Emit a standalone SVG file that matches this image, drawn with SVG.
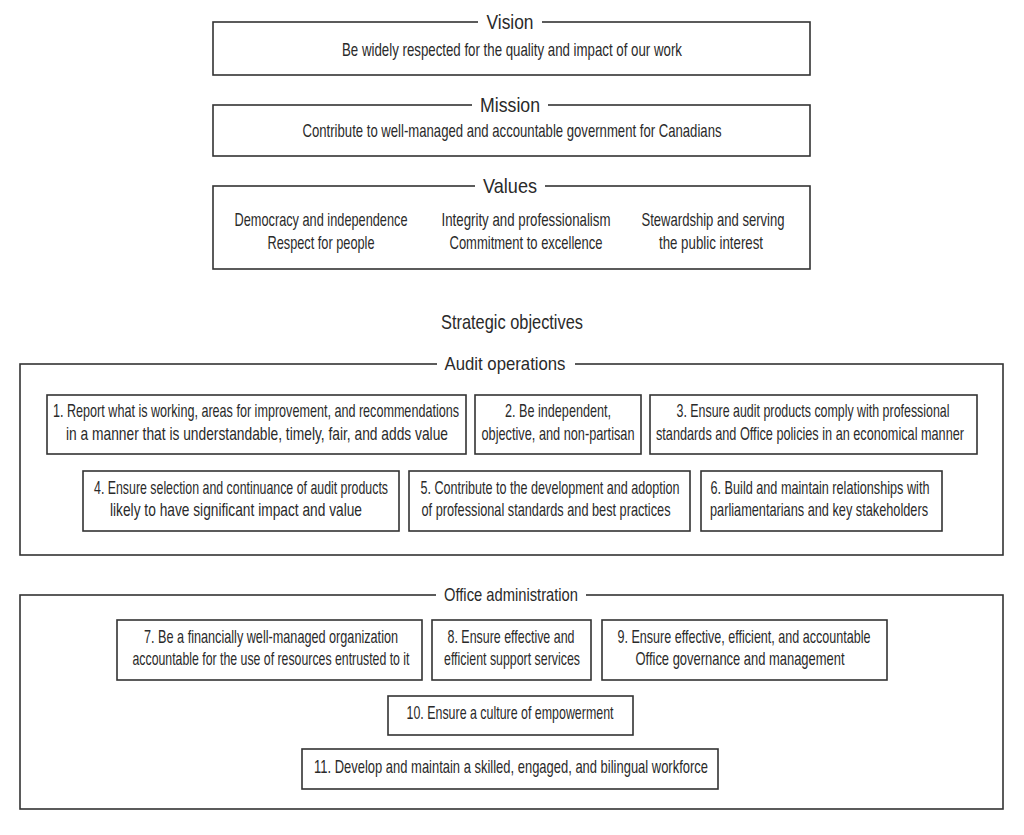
<svg xmlns="http://www.w3.org/2000/svg" width="1024" height="835" viewBox="0 0 1024 835">
<style>
text{font-family:"Liberation Sans",Arial,sans-serif;fill:#2a2a2a;text-anchor:middle}
.t{font-size:18px}
.h{font-size:21px}
.b{fill:none;stroke:#333;stroke-width:1.6}
.bg{fill:#fff}
</style>
<rect width="1024" height="835" fill="#fff"/>
<g id="vision">
<rect class="b" x="213" y="22" width="597" height="53"/>
<rect class="bg" x="478" y="10" width="64" height="24"/>
<text class="h" transform="matrix(0.75 0 0 1 510 0)" x="0" y="29" textLength="62.7" lengthAdjust="spacingAndGlyphs">Vision</text>
<text class="t" transform="matrix(0.75 0 0 1 512 0)" x="0" y="56" textLength="453.3" lengthAdjust="spacingAndGlyphs">Be widely respected for the quality and impact of our work</text>
</g>
<g id="mission">
<rect class="b" x="213" y="105" width="597" height="51"/>
<rect class="bg" x="472" y="93" width="76" height="24"/>
<text class="h" transform="matrix(0.75 0 0 1 510 0)" x="0" y="112" textLength="80" lengthAdjust="spacingAndGlyphs">Mission</text>
<text class="t" transform="matrix(0.75 0 0 1 512 0)" x="0" y="137" textLength="558.7" lengthAdjust="spacingAndGlyphs">Contribute to well-managed and accountable government for Canadians</text>
</g>
<g id="values">
<rect class="b" x="213" y="186" width="597" height="83"/>
<rect class="bg" x="475" y="174" width="70" height="24"/>
<text class="h" transform="matrix(0.75 0 0 1 510 0)" x="0" y="193" textLength="72" lengthAdjust="spacingAndGlyphs">Values</text>
<text class="t" transform="matrix(0.75 0 0 1 321 0)" x="0" y="226" textLength="230.7" lengthAdjust="spacingAndGlyphs">Democracy and independence</text>
<text class="t" transform="matrix(0.75 0 0 1 321 0)" x="0" y="249" textLength="142.7" lengthAdjust="spacingAndGlyphs">Respect for people</text>
<text class="t" transform="matrix(0.75 0 0 1 526 0)" x="0" y="226" textLength="225.3" lengthAdjust="spacingAndGlyphs">Integrity and professionalism</text>
<text class="t" transform="matrix(0.75 0 0 1 526 0)" x="0" y="249" textLength="204" lengthAdjust="spacingAndGlyphs">Commitment to excellence</text>
<text class="t" transform="matrix(0.75 0 0 1 713 0)" x="0" y="226" textLength="190.7" lengthAdjust="spacingAndGlyphs">Stewardship and serving</text>
<text class="t" transform="matrix(0.75 0 0 1 711 0)" x="0" y="249" textLength="138.7" lengthAdjust="spacingAndGlyphs">the public interest</text>
</g>
<g id="strategic-title">
<text class="h" transform="matrix(0.75 0 0 1 512 0)" x="0" y="329" textLength="189.3" lengthAdjust="spacingAndGlyphs">Strategic objectives</text>
</g>
<g id="audit-operations">
<rect class="b" x="20" y="364" width="983" height="191"/>
<rect class="bg" x="437" y="352" width="138" height="24"/>
<text class="t" transform="matrix(0.75 0 0 1 505 0)" x="0" y="370" textLength="161.3" lengthAdjust="spacingAndGlyphs">Audit operations</text>
</g>
<g id="obj1">
<rect class="b" x="47" y="395" width="419" height="59"/>
<text class="t" transform="matrix(0.75 0 0 1 256 0)" x="0" y="417" textLength="541.3" lengthAdjust="spacingAndGlyphs">1. Report what is working, areas for improvement, and recommendations</text>
<text class="t" transform="matrix(0.75 0 0 1 257 0)" x="0" y="440" textLength="509.3" lengthAdjust="spacingAndGlyphs">in a manner that is understandable, timely, fair, and adds value</text>
</g>
<g id="obj2">
<rect class="b" x="475" y="395" width="166" height="59"/>
<text class="t" transform="matrix(0.75 0 0 1 558 0)" x="0" y="417" textLength="141.3" lengthAdjust="spacingAndGlyphs">2. Be independent,</text>
<text class="t" transform="matrix(0.75 0 0 1 558 0)" x="0" y="440" textLength="204" lengthAdjust="spacingAndGlyphs">objective, and non-partisan</text>
</g>
<g id="obj3">
<rect class="b" x="650" y="395" width="327" height="59"/>
<text class="t" transform="matrix(0.75 0 0 1 813 0)" x="0" y="417" textLength="364" lengthAdjust="spacingAndGlyphs">3. Ensure audit products comply with professional</text>
<text class="t" transform="matrix(0.75 0 0 1 810 0)" x="0" y="440" textLength="410.7" lengthAdjust="spacingAndGlyphs">standards and Office policies in an economical manner</text>
</g>
<g id="obj4">
<rect class="b" x="83" y="471" width="316" height="60"/>
<text class="t" transform="matrix(0.75 0 0 1 241 0)" x="0" y="494" textLength="392" lengthAdjust="spacingAndGlyphs">4. Ensure selection and continuance of audit products</text>
<text class="t" transform="matrix(0.75 0 0 1 236 0)" x="0" y="516" textLength="336" lengthAdjust="spacingAndGlyphs">likely to have significant impact and value</text>
</g>
<g id="obj5">
<rect class="b" x="409" y="471" width="281" height="60"/>
<text class="t" transform="matrix(0.75 0 0 1 550 0)" x="0" y="494" textLength="345.3" lengthAdjust="spacingAndGlyphs">5. Contribute to the development and adoption</text>
<text class="t" transform="matrix(0.75 0 0 1 546 0)" x="0" y="516" textLength="332" lengthAdjust="spacingAndGlyphs">of professional standards and best practices</text>
</g>
<g id="obj6">
<rect class="b" x="701" y="471" width="241" height="60"/>
<text class="t" transform="matrix(0.75 0 0 1 820 0)" x="0" y="494" textLength="292" lengthAdjust="spacingAndGlyphs">6. Build and maintain relationships with</text>
<text class="t" transform="matrix(0.75 0 0 1 819 0)" x="0" y="516" textLength="290.7" lengthAdjust="spacingAndGlyphs">parliamentarians and key stakeholders</text>
</g>
<g id="office-administration">
<rect class="b" x="20" y="595" width="983" height="214"/>
<rect class="bg" x="436" y="583" width="150" height="24"/>
<text class="t" transform="matrix(0.75 0 0 1 511 0)" x="0" y="601" textLength="178.7" lengthAdjust="spacingAndGlyphs">Office administration</text>
</g>
<g id="obj7">
<rect class="b" x="117" y="620" width="305" height="60"/>
<text class="t" transform="matrix(0.75 0 0 1 271 0)" x="0" y="643" textLength="338.7" lengthAdjust="spacingAndGlyphs">7. Be a financially well-managed organization</text>
<text class="t" transform="matrix(0.75 0 0 1 271 0)" x="0" y="665" textLength="369.3" lengthAdjust="spacingAndGlyphs">accountable for the use of resources entrusted to it</text>
</g>
<g id="obj8">
<rect class="b" x="432" y="620" width="159" height="60"/>
<text class="t" transform="matrix(0.75 0 0 1 511 0)" x="0" y="643" textLength="169.3" lengthAdjust="spacingAndGlyphs">8. Ensure effective and</text>
<text class="t" transform="matrix(0.75 0 0 1 512 0)" x="0" y="665" textLength="181.3" lengthAdjust="spacingAndGlyphs">efficient support services</text>
</g>
<g id="obj9">
<rect class="b" x="602" y="620" width="285" height="60"/>
<text class="t" transform="matrix(0.75 0 0 1 744 0)" x="0" y="643" textLength="337.3" lengthAdjust="spacingAndGlyphs">9. Ensure effective, efficient, and accountable</text>
<text class="t" transform="matrix(0.75 0 0 1 740 0)" x="0" y="665" textLength="278.7" lengthAdjust="spacingAndGlyphs">Office governance and management</text>
</g>
<g id="obj10">
<rect class="b" x="388" y="696" width="245" height="39"/>
<text class="t" transform="matrix(0.75 0 0 1 510 0)" x="0" y="719" textLength="276" lengthAdjust="spacingAndGlyphs">10. Ensure a culture of empowerment</text>
</g>
<g id="obj11">
<rect class="b" x="302" y="749" width="416" height="40"/>
<text class="t" transform="matrix(0.75 0 0 1 511 0)" x="0" y="773" textLength="525.3" lengthAdjust="spacingAndGlyphs">11. Develop and maintain a skilled, engaged, and bilingual workforce</text>
</g>
<g id="connectors"/>
</svg>
